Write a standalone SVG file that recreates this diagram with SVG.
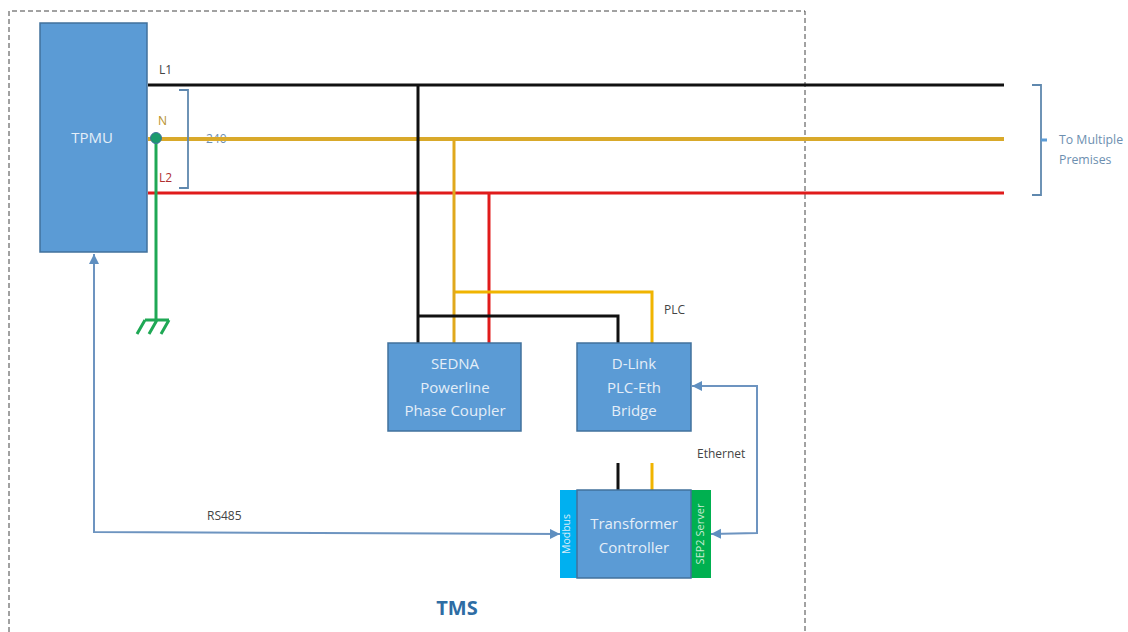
<svg xmlns="http://www.w3.org/2000/svg" width="1128" height="632" viewBox="0 0 1128 632">
<defs>
<marker id="ah" markerUnits="userSpaceOnUse" markerWidth="12" markerHeight="12" refX="10" refY="5" orient="auto-start-reverse"><path d="M0 0L10 5L0 10Z" fill="#5f8fc0"/></marker>
</defs>
<style>
text{font-family:"Open Sans","Liberation Sans",sans-serif}
.box{fill:#5b9bd5;stroke:#41719c;stroke-width:1.5}
.w{fill:#e4eef8;font-size:15px;text-anchor:middle}
.lab{fill:#444;font-size:12px}
.wire{fill:none;stroke-width:3}
.blue{fill:none;stroke:#6d94c0;stroke-width:2}
.br{fill:none;stroke:#5f88ae;stroke-width:1.8}
</style>
<rect width="1128" height="632" fill="#fff"/>
<path d="M9 632V11H805V632" fill="none" stroke="#444" stroke-width="1" stroke-dasharray="5 3"/>
<text x="206" y="143" fill="#6d8fb0" font-size="12">240</text>
<g id="connectors">
<path class="wire" stroke="#111" d="M148 85H1004"/>
<path class="wire" stroke="#d9a92a" style="stroke-width:4" d="M148 139H1004"/>
<path class="wire" stroke="#e01b1b" d="M148 193H1004"/>
<path class="wire" stroke="#e01b1b" d="M489 193V343"/>
<path class="wire" stroke="#f0b400" d="M454 292H652V343"/>
<path class="wire" stroke="#e0a81c" d="M454 139V343"/>
<path class="wire" stroke="#111" d="M418 85V343"/>
<path class="wire" stroke="#111" d="M418 316H618V343"/>
<path class="wire" stroke="#111" d="M618 463V490"/>
<path class="wire" stroke="#f0b400" d="M652 463V490"/>
<path d="M156 137V320" fill="none" stroke="#1fa855" stroke-width="3"/>
<path d="M145 320H169M145 320L137 334M157 320L149 334M169 320L161 334" fill="none" stroke="#1fa855" stroke-width="3"/>
<path class="blue" d="M94 254V532L560 534" marker-start="url(#ah)" marker-end="url(#ah)"/>
<path class="blue" d="M692 386H757V533L711 534" marker-start="url(#ah)" marker-end="url(#ah)"/>
<path class="br" d="M179 90H188V188H179"/>
<path class="br" d="M1032 85H1041V195H1032"/>
<path d="M1041 140H1047" fill="none" stroke="#5b9bd5" stroke-width="3"/>
</g>
<circle cx="156" cy="138" r="5.5" fill="#1a9a6c" stroke="#41719c"/>
<g id="tpmu"><rect class="box" x="40" y="23" width="107" height="229"/><text class="w" x="92" y="143">TPMU</text></g>
<g id="sedna"><rect class="box" x="388" y="343" width="133" height="88"/><text class="w" x="455" y="369">SEDNA</text><text class="w" x="455" y="393">Powerline</text><text class="w" x="455" y="416">Phase Coupler</text></g>
<g id="dlink"><rect class="box" x="577" y="343" width="114" height="88"/><text class="w" x="634" y="369">D-Link</text><text class="w" x="634" y="393">PLC-Eth</text><text class="w" x="634" y="416">Bridge</text></g>
<g id="controller">
<rect x="560" y="490" width="18" height="88" fill="#00b0f0"/>
<rect x="691" y="490" width="20" height="88" fill="#00b050"/>
<rect class="box" x="577" y="490" width="114" height="88"/>
<text class="w" x="634" y="529">Transformer</text><text class="w" x="634" y="553">Controller</text>
<text transform="translate(570 534) rotate(-90)" fill="#d5ecfa" font-size="10.5" text-anchor="middle">Modbus</text>
<text transform="translate(704 534) rotate(-90)" fill="#c8ecd4" font-size="11" text-anchor="middle">SEP2 Server</text>
</g>
<g id="labels">
<text class="lab" x="159" y="74">L1</text>
<text x="158" y="125" fill="#b8902a" font-size="12">N</text>
<text x="159" y="182" fill="#b03030" font-size="12">L2</text>
<text class="lab" x="664" y="314">PLC</text>
<text class="lab" x="697" y="458">Ethernet</text>
<text class="lab" x="207" y="520">RS485</text>
<text x="1059" y="144" fill="#6d8fb0" font-size="12.3">To Multiple</text>
<text x="1059" y="164" fill="#6d8fb0" font-size="12.3">Premises</text>
<text x="457" y="615" fill="#2e6da4" font-size="20" font-weight="700" text-anchor="middle">TMS</text>
</g>
</svg>
